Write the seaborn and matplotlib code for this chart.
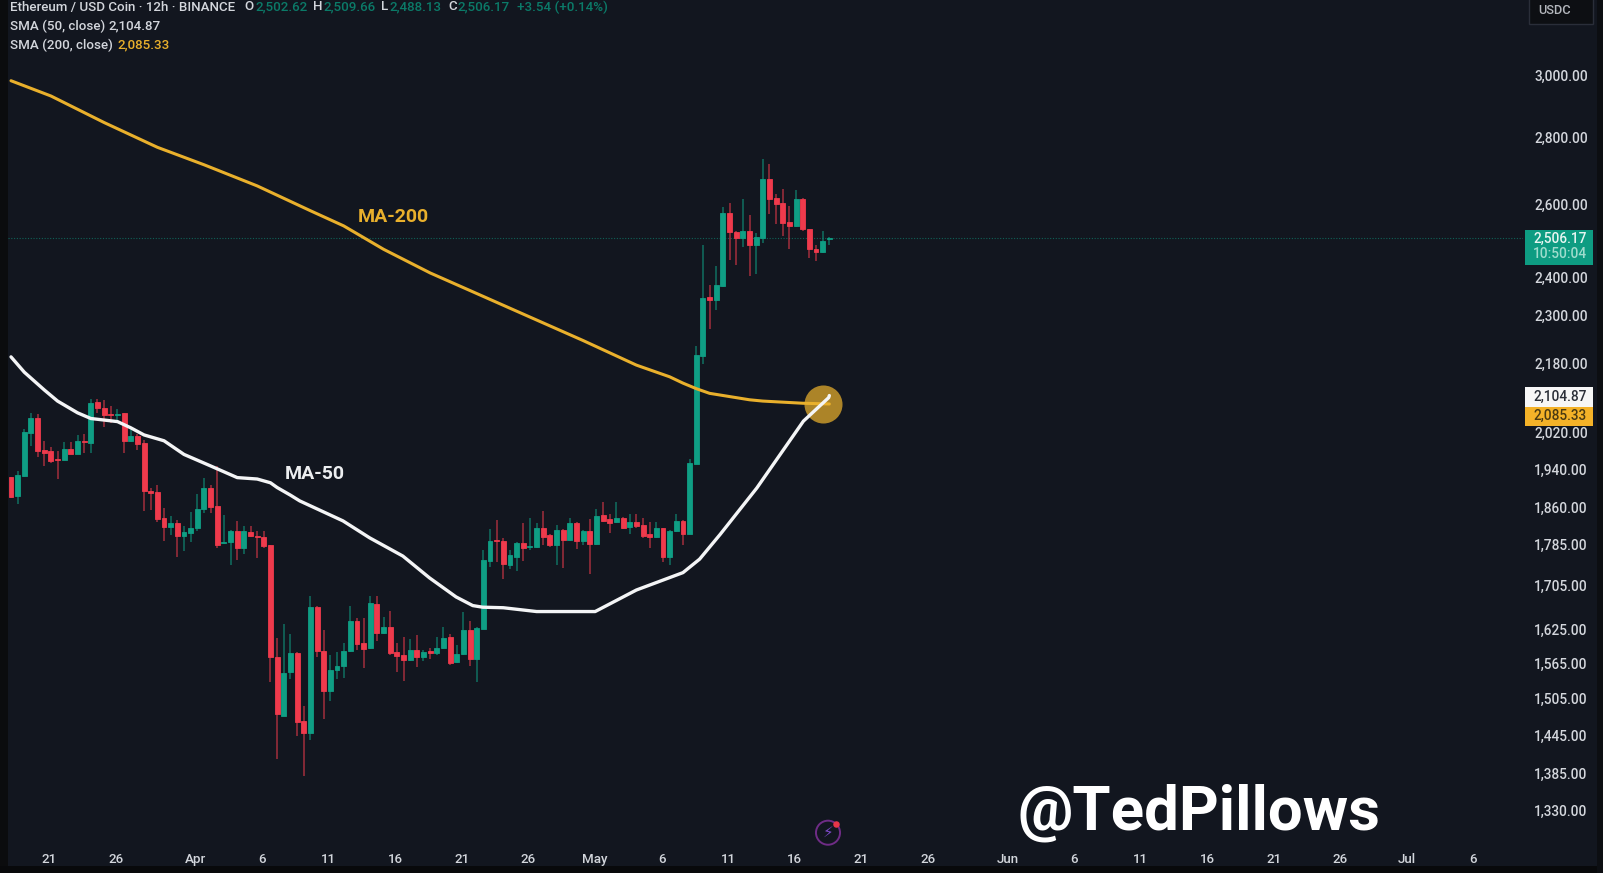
"""
ETH / USDC 12h candles with the 50 and 200 SMA, values read off the picture.
"""

#%% some imports

import pandas as pd
import numpy as np
import matplotlib
matplotlib.use("Agg")
import matplotlib.pyplot as plt
import matplotlib.dates as mdates
import matplotlib.patches as mpatches
from matplotlib.ticker import NullLocator
from matplotlib.transforms import ScaledTranslation
import seaborn as sns

#%% data

open_ = [1923, 1884, 1925, 2020, 2053, 1982, 1979, 1961, 1960, 1984, 1973, 2001, 1998, 2090, 2075, 2063, 2061, 2064, 2002, 2012,
         1997, 1893, 1891, 1838, 1820, 1828, 1801, 1808, 1818, 1857, 1901, 1863, 1788, 1790, 1811, 1778, 1809, 1802, 1800, 1783,
         1575, 1476, 1549, 1582, 1468, 1448, 1666, 1587, 1517, 1553, 1560, 1587, 1640, 1600, 1592, 1671, 1618, 1629, 1584, 1579,
         1570, 1588, 1576, 1587, 1582, 1592, 1611, 1567, 1581, 1624, 1572, 1626, 1752, 1793, 1792, 1745, 1760, 1787, 1779, 1779,
         1817, 1803, 1784, 1813, 1793, 1827, 1791, 1812, 1786, 1843, 1835, 1829, 1838, 1820, 1830, 1823, 1806, 1799, 1817, 1761,
         1812, 1831, 1806, 1952, 2199, 2347, 2339, 2376, 2577, 2524, 2507, 2525, 2488, 2507, 2674, 2620, 2604, 2551, 2539, 2618,
         2530, 2477, 2468, 2502.62]
high = [1923, 1936, 2028, 2065, 2063, 2001, 1988, 1979, 1999, 1999, 2014, 2016, 2096, 2096, 2094, 2080, 2073, 2065, 2029, 2018,
        2004, 1900, 1907, 1858, 1841, 1834, 1821, 1851, 1887, 1921, 1907, 1946, 1843, 1814, 1831, 1821, 1821, 1811, 1811, 1784,
        1610, 1634, 1616, 1585, 1492, 1685, 1667, 1623, 1580, 1585, 1601, 1667, 1646, 1646, 1685, 1685, 1647, 1658, 1601, 1611,
        1607, 1615, 1588, 1592, 1611, 1629, 1616, 1597, 1657, 1640, 1628, 1773, 1816, 1833, 1797, 1774, 1790, 1827, 1838, 1827,
        1852, 1806, 1823, 1815, 1838, 1830, 1813, 1835, 1856, 1870, 1846, 1870, 1840, 1847, 1847, 1838, 1829, 1829, 1818, 1813,
        1847, 1833, 1961, 2223, 2487, 2380, 2429, 2593, 2606, 2527, 2618, 2570, 2521, 2734, 2719, 2630, 2645, 2596, 2642, 2620,
        2532, 2487, 2527, 2509.66]
low = [1880, 1866, 1923, 1990, 1966, 1946, 1954, 1918, 1959, 1972, 1972, 1975, 1975, 2065, 2033, 2041, 2046, 1975, 2000, 1982,
       1853, 1855, 1830, 1791, 1804, 1761, 1771, 1790, 1811, 1848, 1848, 1778, 1786, 1745, 1755, 1766, 1799, 1759, 1778, 1532,
       1407, 1476, 1537, 1443, 1381, 1437, 1576, 1471, 1500, 1537, 1540, 1585, 1588, 1556, 1590, 1604, 1616, 1580, 1549, 1535,
       1568, 1558, 1568, 1573, 1580, 1590, 1562, 1566, 1580, 1560, 1533, 1625, 1741, 1750, 1717, 1736, 1734, 1752, 1774, 1778,
       1784, 1779, 1745, 1739, 1791, 1776, 1783, 1728, 1784, 1829, 1808, 1827, 1815, 1805, 1818, 1798, 1778, 1798, 1750, 1744,
       1810, 1783, 1805, 1952, 2180, 2265, 2313, 2374, 2447, 2432, 2481, 2402, 2409, 2493, 2574, 2544, 2511, 2475, 2536, 2527,
       2450, 2442, 2465, 2488.13]
close = [1882, 1927, 2022, 2053, 1980, 1975, 1957, 1960, 1984, 1973, 2001, 1999, 2088, 2075, 2061, 2061, 2063, 2002, 2012, 1995,
         1893, 1890, 1836, 1820, 1828, 1801, 1809, 1818, 1857, 1901, 1861, 1784, 1790, 1811, 1778, 1811, 1801, 1800, 1781, 1575,
         1479, 1548, 1582, 1467, 1448, 1665, 1586, 1517, 1553, 1560, 1587, 1639, 1599, 1590, 1672, 1618, 1629, 1582, 1578, 1570,
         1588, 1576, 1585, 1582, 1592, 1609, 1566, 1581, 1624, 1572, 1627, 1754, 1792, 1791, 1746, 1764, 1787, 1778, 1781, 1817,
         1800, 1784, 1813, 1793, 1827, 1791, 1812, 1786, 1841, 1831, 1828, 1838, 1817, 1830, 1821, 1801, 1799, 1817, 1760, 1812,
         1831, 1806, 1954, 2201, 2344, 2339, 2379, 2577, 2524, 2507, 2525, 2488, 2508, 2674, 2618, 2601, 2549, 2539, 2618, 2530,
         2477, 2468, 2498, 2506.17]

# candle number, price
ma200_idx = [0, 6, 14, 22, 29, 37, 45, 50, 56, 63, 71, 78, 86, 94, 99, 101, 103, 105, 111, 113, 119, 123]
ma200_val = [2983, 2933, 2848, 2771, 2718, 2655, 2583, 2540, 2475, 2411, 2349, 2296, 2237, 2177, 2149, 2134, 2121, 2110, 2095, 2092, 2087, 2085.33]

ma50_idx = [0, 2, 5, 7, 10, 12, 16, 18, 20, 23, 26, 30, 34, 37, 39, 40, 42, 43.4, 49.9, 53.9, 58.9, 62.9, 66.9, 69.4, 70.9,
            74, 79, 87.8, 94, 101, 103.5, 106.6, 112.1, 119.1, 122.9, 123]
ma50_val = [2197, 2160, 2118, 2092, 2065, 2052, 2045, 2031, 2015, 2002, 1972, 1947, 1922, 1919, 1911, 1901, 1885, 1873, 1832, 1798,
            1762, 1720, 1684, 1668, 1665, 1664, 1657, 1657, 1697, 1730, 1756, 1805, 1900, 2046, 2100, 2104.87]

price_ticks = [3000, 2800, 2600, 2400, 2300, 2180, 2020, 1940, 1860, 1785, 1705, 1625, 1565, 1505, 1445, 1385, 1330]

date_ticks = ['2025-03-21', '2025-03-26', '2025-04-01', '2025-04-06', '2025-04-11', '2025-04-16', '2025-04-21', '2025-04-26',
              '2025-05-01', '2025-05-06', '2025-05-11', '2025-05-16', '2025-05-21', '2025-05-26', '2025-06-01', '2025-06-06',
              '2025-06-11', '2025-06-16', '2025-06-21', '2025-06-26', '2025-07-01', '2025-07-06']
date_labels = ['21', '26', 'Apr', '6', '11', '16', '21', '26', 'May', '6', '11', '16', '21', '26', 'Jun', '6',
               '11', '16', '21', '26', 'Jul', '6']

last_price = 2506.17
ma50_last = 2104.87
ma200_last = 2085.33

#%% frame

start = mdates.date2num(pd.Timestamp('2025-03-18'))
df = pd.DataFrame({'open': open_, 'high': high, 'low': low, 'close': close})
df['t'] = start + np.arange(len(df)) * 0.5
df['up'] = df['close'] >= df['open']

ma200_t = start + np.array(ma200_idx) * 0.5
ma50_t = start + np.array(ma50_idx) * 0.5

#%% plot

W, H = 1603, 873
BG = '#12161f'
GREEN = '#0f9e84'
RED = '#ef3a4c'
GOLD = '#e9b02c'
TXT = '#d3d6dc'

sns.set_theme(style='dark', rc={'figure.facecolor': BG, 'axes.facecolor': BG, 'axes.grid': False})
plt.rcParams['font.family'] = ['Roboto', 'DejaVu Sans']

fig = plt.figure(figsize=(W / 100, H / 100), dpi=100)
ax = fig.add_axes([8 / W, 1 - 850 / H, (1523 - 8) / W, 850 / H])
ax.set_yscale('log')


def rect(x0, y0, x1, y1, color, **kw):
    p = mpatches.Rectangle((x0 / W, 1 - y1 / H), (x1 - x0) / W, (y1 - y0) / H, transform=fig.transFigure,
                           facecolor=color, edgecolor=kw.pop('edgecolor', 'none'), zorder=2, **kw)
    fig.add_artist(p)


def ftext(x, y, s, color=TXT, size=9.6, **kw):
    kw.setdefault('va', 'center')
    kw.setdefault('fontweight', 'medium')
    fig.text(x / W, 1 - y / H, s, color=color, fontsize=size, zorder=3, **kw)


# last price line
ax.axhline(last_price, color=GREEN, lw=0.8, ls=(0, (1, 1.5)), alpha=0.55, zorder=1)

# candles
for up, col in [(True, GREEN), (False, RED)]:
    d = df[df['up'] == up]
    ax.vlines(d['t'], d['low'], d['high'], color=col, lw=1.2, alpha=0.6, zorder=2)
    ax.bar(d['t'], d['close'] - d['open'], bottom=d['open'], width=0.37, color=col,
           edgecolor=col, linewidth=0.6, zorder=3)

# crossover marker
sns.scatterplot(x=[start + 61.0], y=[2086], s=750, color=GOLD, alpha=0.72, linewidth=0, ax=ax, zorder=4, legend=False)

sns.lineplot(x=ma200_t, y=ma200_val, color=GOLD, lw=2.2, estimator=None, sort=False, ax=ax, zorder=5)
sns.lineplot(x=ma50_t, y=ma50_val, color='#f4f5f6', lw=2.4, estimator=None, sort=False, ax=ax, zorder=6)

ax.text(start + 28.75, 2566, 'MA-200', color=GOLD, fontsize=14, fontweight='bold', ha='center', va='center')
ax.text(start + 22.85, 1930, 'MA-50', color='#eceef0', fontsize=14, fontweight='bold', ha='center', va='center')

# little flash icon near the bottom
sns.scatterplot(x=[start + 61.4], y=[1297], s=300, facecolor='none', edgecolor='#6f2c86', linewidth=1.4, ax=ax, legend=False)
sns.scatterplot(x=[start + 62.0], y=[1309], s=22, color='#e8354a', linewidth=0, ax=ax, legend=False)
ax.text(start + 61.4, 1297, '\u26a1', color='#7a48c4', fontsize=11, ha='center', va='center', family=['DejaVu Sans'])

# axes
ax.set_xlim(start - 0.2255, start + 113.63)
ax.set_ylim(1272.4, 3262)
ax.yaxis.tick_right()
ax.set_yticks(price_ticks)
ax.set_yticklabels([f'{p:,.2f}' for p in price_ticks], fontweight='medium')
ax.yaxis.set_minor_locator(NullLocator())
ax.set_xticks([mdates.date2num(pd.Timestamp(d)) for d in date_ticks])
ax.set_xticklabels(date_labels, fontweight='medium')
ax.tick_params(axis='y', length=0, pad=8, labelsize=9.8, labelcolor=TXT)
ax.tick_params(axis='x', length=0, pad=2.5, labelsize=9.6, labelcolor=TXT)
shift = ScaledTranslation(-1.5 / 100, 0, fig.dpi_scale_trans)
for lab in ax.get_xticklabels():
    lab.set_transform(lab.get_transform() + shift)
for s in ax.spines.values():
    s.set_visible(False)
ax.set_xlabel('')
ax.set_ylabel('')

# screen edges
rect(0, 0, 8, H, '#0b0c0e')
rect(0, 866, W, H, '#08090b')
rect(1597, 0, W, H, '#0c0e12')

# price badges
rect(1525, 230, 1593, 265, '#0e9c82')
ftext(1560, 239, '2,506.17', color='#e8f5f1', size=9.8, ha='center')
ftext(1560, 254, '10:50:04', color='#9fdccd', size=9.8, ha='center')
rect(1525, 387, 1593, 407, '#f7f7f7')
ftext(1560, 397, f'{ma50_last:,.2f}', color='#2b2f38', size=9.8, ha='center')
rect(1525, 407, 1593, 426, '#f4b228')
ftext(1560, 416, f'{ma200_last:,.2f}', color='#4a3a12', size=9.8, ha='center')

# USDC button
rect(1529, -4, 1593, 24, '#0d0f13', edgecolor='#2a2e39', linewidth=1)
ftext(1555, 11, 'USDC', color='#b4b7bd', size=9.2, ha='center')

# header lines
ftext(10, 7, 'Ethereum / USD Coin \u00b7 12h \u00b7 BINANCE')
VAL = '#0b7a68'
for x, key, xv, val in [(244, 'O', 255, '2,502.62'), (313, 'H', 323, '2,509.66'), (381, 'L', 389, '2,488.13'), (448, 'C', 457, '2,506.17')]:
    ftext(x, 7, key)
    ftext(xv, 7, val, color=VAL)
ftext(517, 7, '+3.54 (+0.14%)', color=VAL)
ftext(10, 26, 'SMA (50, close)')
ftext(109, 26, f'{ma50_last:,.2f}')
ftext(10, 45, 'SMA (200, close)')
ftext(117, 45, f'{ma200_last:,.2f}', color=GOLD)

# watermark
ftext(1018, 830, '@TedPillows', color='#ffffff', size=44.5, fontweight='bold', va='baseline')

fig.savefig('out.png', dpi=100, facecolor=fig.get_facecolor())
